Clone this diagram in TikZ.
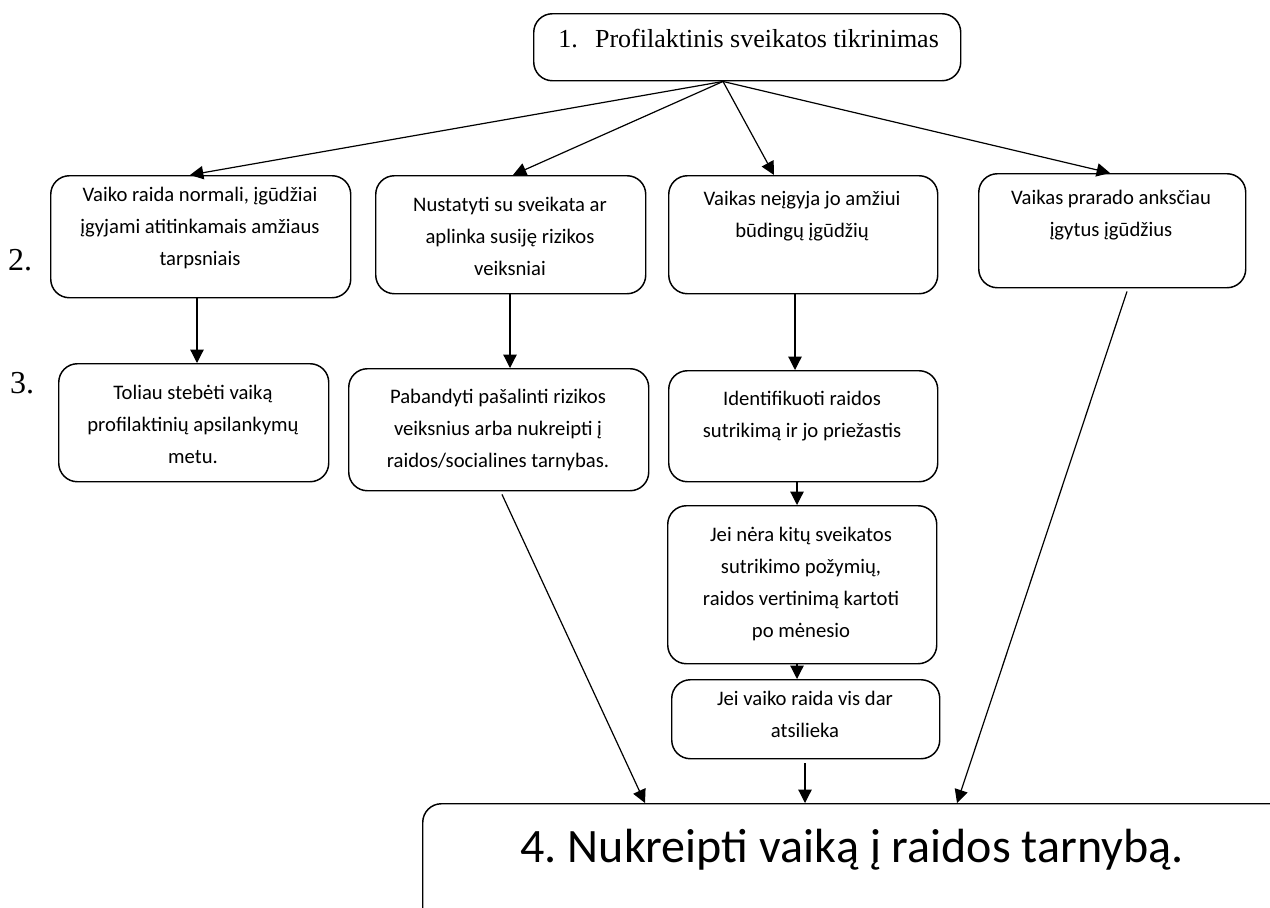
\documentclass[tikz,border=0pt]{standalone}
\usepackage{fontspec}
\setmainfont{Liberation Serif}
\newfontfamily\calfont{Carlito}
\usetikzlibrary{arrows.meta,calc}
\frenchspacing
\begin{document}
\begin{tikzpicture}[x=0.75pt,y=-0.75pt,
  bx/.style 2 args={draw, line width=1.1pt, rounded corners=14pt, anchor=north west, inner sep=0pt,
     minimum width=#1*0.75pt, minimum height=#2*0.75pt},
  txt/.style={align=center, font=\calfont\fontsize{15.5}{24}\selectfont, inner sep=0pt},
  arr/.style={line width=0.9pt, -{Triangle[length=10pt,width=10pt]}},
  lbl/.style={font=\fontsize{24}{28}\selectfont, inner sep=0pt}]
\useasboundingbox (0,0) rectangle (1270,907);
\clip (0,0) rectangle (1270,907);
% boxes
\node[bx={427}{67}] (T) at (533,13) {};
\node[bx={300}{122}] (A) at (50,175) {};
\node[bx={270}{118}] (B) at (375,175) {};
\node[bx={269}{118}] (C) at (668,175) {};
\node[bx={267}{114}] (D) at (978,173) {};
\node[bx={270}{118}] (A3) at (58,363) {};
\node[bx={300}{122}] (B3) at (348,368) {};
\node[bx={269}{111}] (C3) at (668,370) {};
\node[bx={269}{158}] (C4) at (667,505) {};
\node[bx={268}{79}] (C5) at (671,679) {};
\node[bx={900}{200}] (F) at (422,803) {};
% texts
\node[anchor=base west, font=\fontsize{19.5}{22}\selectfont, inner sep=0pt] (Tt) at (558,47) {1.\hspace{13pt}Profilaktinis sveikatos tikrinimas};
\node[txt] (At) at (200,228) {Vaiko raida normali, įgūdžiai\\įgyjami atitinkamais amžiaus\\tarpsniais};
\node[txt] (Bt) at (510,236) {Nustatyti su sveikata ar\\aplinka susiję rizikos\\veiksniai};
\node[txt] (Ct) at (802,216) {Vaikas neįgyja jo amžiui\\būdingų įgūdžių};
\node[txt] (Dt) at (1111,215) {Vaikas prarado anksčiau\\įgytus įgūdžius};
\node[txt] (A3t) at (193,424) {Toliau stebėti vaiką\\profilaktinių apsilankymų\\metu.};
\node[txt] (B3t) at (498,430) {Pabandyti pašalinti rizikos\\veiksnius arba nukreipti į\\raidos/socialines tarnybas.};
\node[txt] (C3t) at (802,416) {Identifikuoti raidos\\sutrikimą ir jo priežastis};
\node[txt] (C4t) at (801,584) {Jei nėra kitų sveikatos\\sutrikimo požymių,\\raidos vertinimą kartoti\\po mėnesio};
\node[txt] (C5t) at (805,714) {Jei vaiko raida vis dar\\atsilieka};
\node[font=\calfont\fontsize{36}{40}\selectfont, inner sep=0pt] (Ft) at (852,850) {4. Nukreipti vaiką į raidos tarnybą.};
\node[lbl] (L2) at (20,260) {2.};
\node[lbl] (L3) at (22,383) {3.};
% connectors
\coordinate (O) at ($(T.south west)+(190,0)$);
\draw[arr] (O) -- ($(A.north west)+(140,0)$);
\draw[arr] (O) -- ($(B.north west)+(138,0)$);
\draw[arr] (O) -- ($(C.north west)+(106,0)$);
\draw[arr] (O) -- ($(D.north west)+(132,0)$);
\draw[arr] ($(A.south west)+(147,0)$) -- ($(A3.north west)+(139,0)$);
\draw[arr] ($(B.south west)+(135,0)$) -- ($(B3.north west)+(162,0)$);
\draw[arr] ($(C.south west)+(127,0)$) -- ($(C3.north west)+(127,0)$);
\draw[arr] ($(C3.south west)+(129,0)$) -- ($(C4.north west)+(130,0)$);
\draw[arr] ($(C4.south west)+(130,0)$) -- ($(C5.north west)+(126,0)$);
\draw[arr] ($(C5.south west)+(134,4)$) -- ($(F.north west)+(383,0)$);
\draw[arr] ($(B3.south west)+(154,3)$) -- ($(F.north west)+(223,0)$);
\draw[arr] ($(D.south west)+(149,3)$) -- ($(F.north west)+(535,0)$);
\end{tikzpicture}
\end{document}
